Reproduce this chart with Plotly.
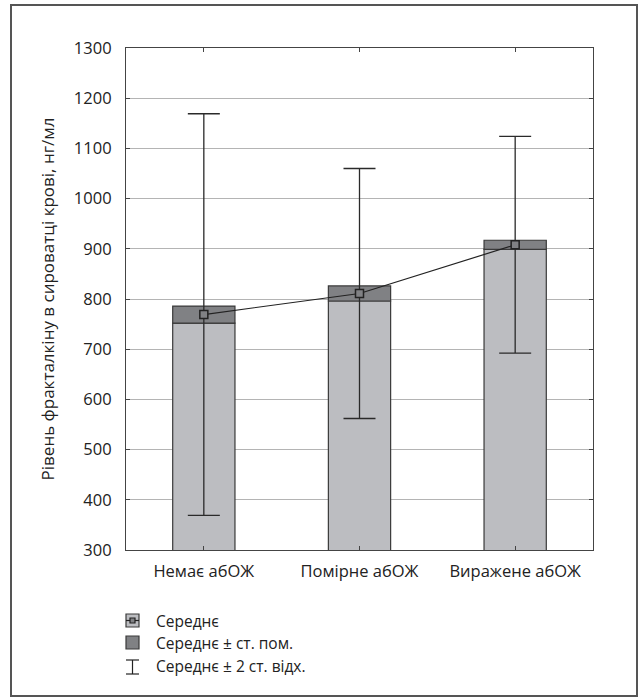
import plotly.graph_objects as go

categories = ["Немає абОЖ", "Помірне абОЖ", "Виражене абОЖ"]
means = [769, 811, 908]
se = [17, 15, 9]
sd2 = [400, 249, 216]
y_ticks = [300, 400, 500, 600, 700, 800, 900, 1000, 1100, 1200, 1300]
y_title = "Рівень фракталкіну в сироватці крові, нг/мл"
legend_labels = ["Середнє", "Середнє ± ст. пом.", "Середнє ± 2 ст. відх."]

W, H = 640, 697
L, R, T, B = 126, 593, 48, 550
FONT = "Open Sans"
FS = 16.5
LIGHT = "#bcbdc1"
DARK = "#808184"
EDGE = "#3a3a3a"

def px(x):
    return (x - L) / (R - L)

def py(y):
    return (B - y) / (B - T)

fig = go.Figure()
fig.add_trace(go.Bar(
    x=categories, y=[m - s for m, s in zip(means, se)],
    width=0.4, marker=dict(color=LIGHT, line=dict(color=EDGE, width=1.2)),
    showlegend=False, hoverinfo="skip"))
fig.add_trace(go.Bar(
    x=categories, y=[2 * s for s in se], base=[m - s for m, s in zip(means, se)],
    width=0.4, marker=dict(color=DARK, line=dict(color=EDGE, width=1.2)),
    showlegend=False, hoverinfo="skip"))
fig.add_trace(go.Scatter(
    x=categories, y=means, mode="markers",
    marker=dict(size=1, color="rgba(0,0,0,0)"),
    error_y=dict(type="data", array=sd2, symmetric=True, color="#2a2a2a", thickness=1.3, width=16),
    showlegend=False))
fig.add_trace(go.Scatter(
    x=categories, y=means, mode="lines+markers",
    line=dict(color="#222222", width=1.2),
    marker=dict(symbol="square", size=8, color=DARK, line=dict(color="#222222", width=1.5)),
    showlegend=False))

fig.update_layout(
    width=W, height=H, barmode="overlay",
    margin=dict(l=L, r=W - R, t=T, b=H - B),
    paper_bgcolor="white", plot_bgcolor="white",
    font=dict(family=FONT, size=FS, color="#222222"),
    showlegend=False,
)
fig.update_xaxes(
    showline=True, linecolor="#444444", linewidth=1.2, mirror="allticks",
    ticks="inside", ticklen=4, tickcolor="#444444",
    showgrid=False, tickfont=dict(size=FS), range=[-0.5, 2.5],
    ticklabelstandoff=6)
fig.update_yaxes(
    range=[300, 1300], tickvals=y_ticks, ticktext=[str(v) for v in y_ticks],
    showline=True, linecolor="#444444", linewidth=1.2, mirror="allticks",
    ticks="inside", ticklen=4, tickcolor="#444444",
    showgrid=True, gridcolor="#b4b4b4", gridwidth=1, zeroline=False,
    tickfont=dict(size=FS), ticklabelstandoff=10,
    title=dict(text=y_title, font=dict(size=17), standoff=14))

shapes = []
# outer frame
shapes.append(dict(type="rect", xref="paper", yref="paper",
                   x0=px(11), x1=px(637), y0=py(696), y1=py(5),
                   line=dict(color="#555555", width=2), fillcolor="rgba(0,0,0,0)", layer="below"))
# legend row 1: mean marker icon
shapes.append(dict(type="rect", xref="paper", yref="paper",
                   x0=px(126), x1=px(139), y0=py(627), y1=py(614),
                   line=dict(color=EDGE, width=1.2), fillcolor=LIGHT))
shapes.append(dict(type="line", xref="paper", yref="paper",
                   x0=px(126), x1=px(139), y0=py(620.5), y1=py(620.5),
                   line=dict(color="#222222", width=1.2)))
shapes.append(dict(type="rect", xref="paper", yref="paper",
                   x0=px(130), x1=px(135), y0=py(623), y1=py(618),
                   line=dict(color="#222222", width=1.2), fillcolor=DARK))
# legend row 2: SE box
shapes.append(dict(type="rect", xref="paper", yref="paper",
                   x0=px(126), x1=px(139), y0=py(649), y1=py(636),
                   line=dict(color=EDGE, width=1.2), fillcolor=DARK))
# legend row 3: whisker
shapes.append(dict(type="line", xref="paper", yref="paper",
                   x0=px(132.5), x1=px(132.5), y0=py(674), y1=py(660),
                   line=dict(color="#222222", width=1.2)))
shapes.append(dict(type="line", xref="paper", yref="paper",
                   x0=px(126), x1=px(139), y0=py(660), y1=py(660),
                   line=dict(color="#222222", width=1.2)))
shapes.append(dict(type="line", xref="paper", yref="paper",
                   x0=px(126), x1=px(139), y0=py(674), y1=py(674),
                   line=dict(color="#222222", width=1.2)))

annotations = []
for label, yc in zip(legend_labels, [620.5, 642.5, 666]):
    annotations.append(dict(text=label, xref="paper", yref="paper",
                            x=px(154), y=py(yc), xanchor="left", yanchor="middle",
                            showarrow=False, font=dict(size=15.5, color="#222222")))

fig.update_layout(shapes=shapes, annotations=annotations)
fig.write_html("out.html",
               config={"displayModeBar": False},
               post_script="document.body.style.margin='0';document.body.style.overflow='hidden';")
